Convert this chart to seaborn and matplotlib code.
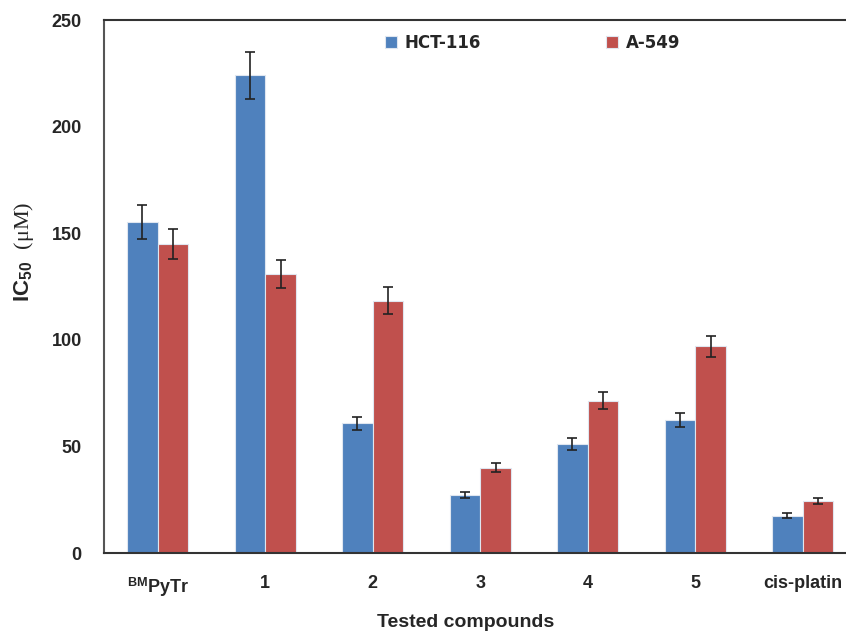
import pandas as pd
import matplotlib
matplotlib.use('Agg')
import matplotlib.pyplot as plt
import seaborn as sns

# Data
compounds = ['BMPyTr', '1', '2', '3', '4', '5', 'cis-platin']
tick_labels = ['$^{\\mathbf{BM}}$PyTr', '1', '2', '3', '4', '5', 'cis-platin']
cell_lines = ['HCT-116', 'A-549']
hct116 = [155.4, 224.1, 60.8, 27.2, 51.1, 62.5, 17.5]
hct116_err = [7.9, 11.0, 3.1, 1.6, 2.7, 3.3, 1.1]
a549 = [145.1, 130.9, 118.3, 40.0, 71.4, 96.9, 24.5]
a549_err = [7.0, 6.5, 6.3, 2.0, 4.0, 5.0, 1.4]

colors = ['#4F81BD', '#C0504D']

# Long-form table for seaborn
df = pd.DataFrame({
    'compound': compounds * 2,
    'line': [cell_lines[0]] * len(compounds) + [cell_lines[1]] * len(compounds),
    'ic50': hct116 + a549,
})
errs = {cell_lines[0]: hct116_err, cell_lines[1]: a549_err}

sns.set_style('white')
plt.rcParams['font.family'] = ['Liberation Sans', 'DejaVu Sans']
plt.rcParams['mathtext.fontset'] = 'custom'
plt.rcParams['mathtext.bf'] = 'Liberation Sans:bold'
plt.rcParams['mathtext.rm'] = 'Liberation Serif'
plt.rcParams['mathtext.it'] = 'Liberation Serif:italic'

fig = plt.figure(figsize=(8.46, 6.35), dpi=100)
ax = fig.add_axes([0.1229, 0.1291, 0.8895, 0.8394])

sns.barplot(data=df, x='compound', y='ic50', hue='line', hue_order=cell_lines,
            palette=colors, width=0.57, gap=0, errorbar=None, saturation=1,
            edgecolor='#dfe6f0', linewidth=0.8, ax=ax)

# error bars on top of each bar, positioned from the drawn patches
for container, name in zip(ax.containers, cell_lines):
    for bar, e in zip(container, errs[name]):
        xc = bar.get_x() + bar.get_width() / 2
        ax.errorbar(xc, bar.get_height(), yerr=e, fmt='none', ecolor='#222222',
                    elinewidth=1.2, capsize=3.5, capthick=1.2, zorder=5)

ax.set_ylim(0, 250)
ax.set_xlim(-0.5, len(compounds) - 0.5)
ax.set_yticks([0, 50, 100, 150, 200, 250])
ax.tick_params(axis='y', which='major', direction='out', length=4, width=1,
               color='#888888', labelsize=13, pad=12)
for t in ax.get_yticklabels():
    t.set_fontweight('bold')

ax.set_xticks(range(len(compounds)))
ax.set_xticklabels(tick_labels, fontsize=13, fontweight='bold')
ax.tick_params(axis='x', which='major', length=0, pad=16)
ax.set_xticks([i - 0.5 for i in range(len(compounds) + 1)], minor=True)
ax.tick_params(axis='x', which='minor', direction='out', length=6, width=1, color='#aaaaaa')

for side in ['left', 'bottom', 'top']:
    ax.spines[side].set_visible(True)
    ax.spines[side].set_color('#333333')
    ax.spines[side].set_linewidth(1.5)
ax.spines['right'].set_visible(False)
ax.spines['left'].set_color('#555555')

ax.set_ylabel(r'$\mathbf{IC_{50}}$  $\mathrm{(\mu M)}$', fontsize=16)
ax.yaxis.set_label_coords(-0.09, 0.565)
ax.set_xlabel('Tested compounds', fontsize=14, fontweight='bold')
ax.xaxis.set_label_coords(0.48, -0.115)

leg = ax.legend(loc='center', bbox_to_anchor=(0.57, 0.957), ncol=2, frameon=False,
                handlelength=0.7, handleheight=0.7, columnspacing=7.5,
                handletextpad=0.5,
                prop={'family': 'DejaVu Sans', 'weight': 'bold', 'size': 12})

fig.savefig('out.png', dpi=100)
